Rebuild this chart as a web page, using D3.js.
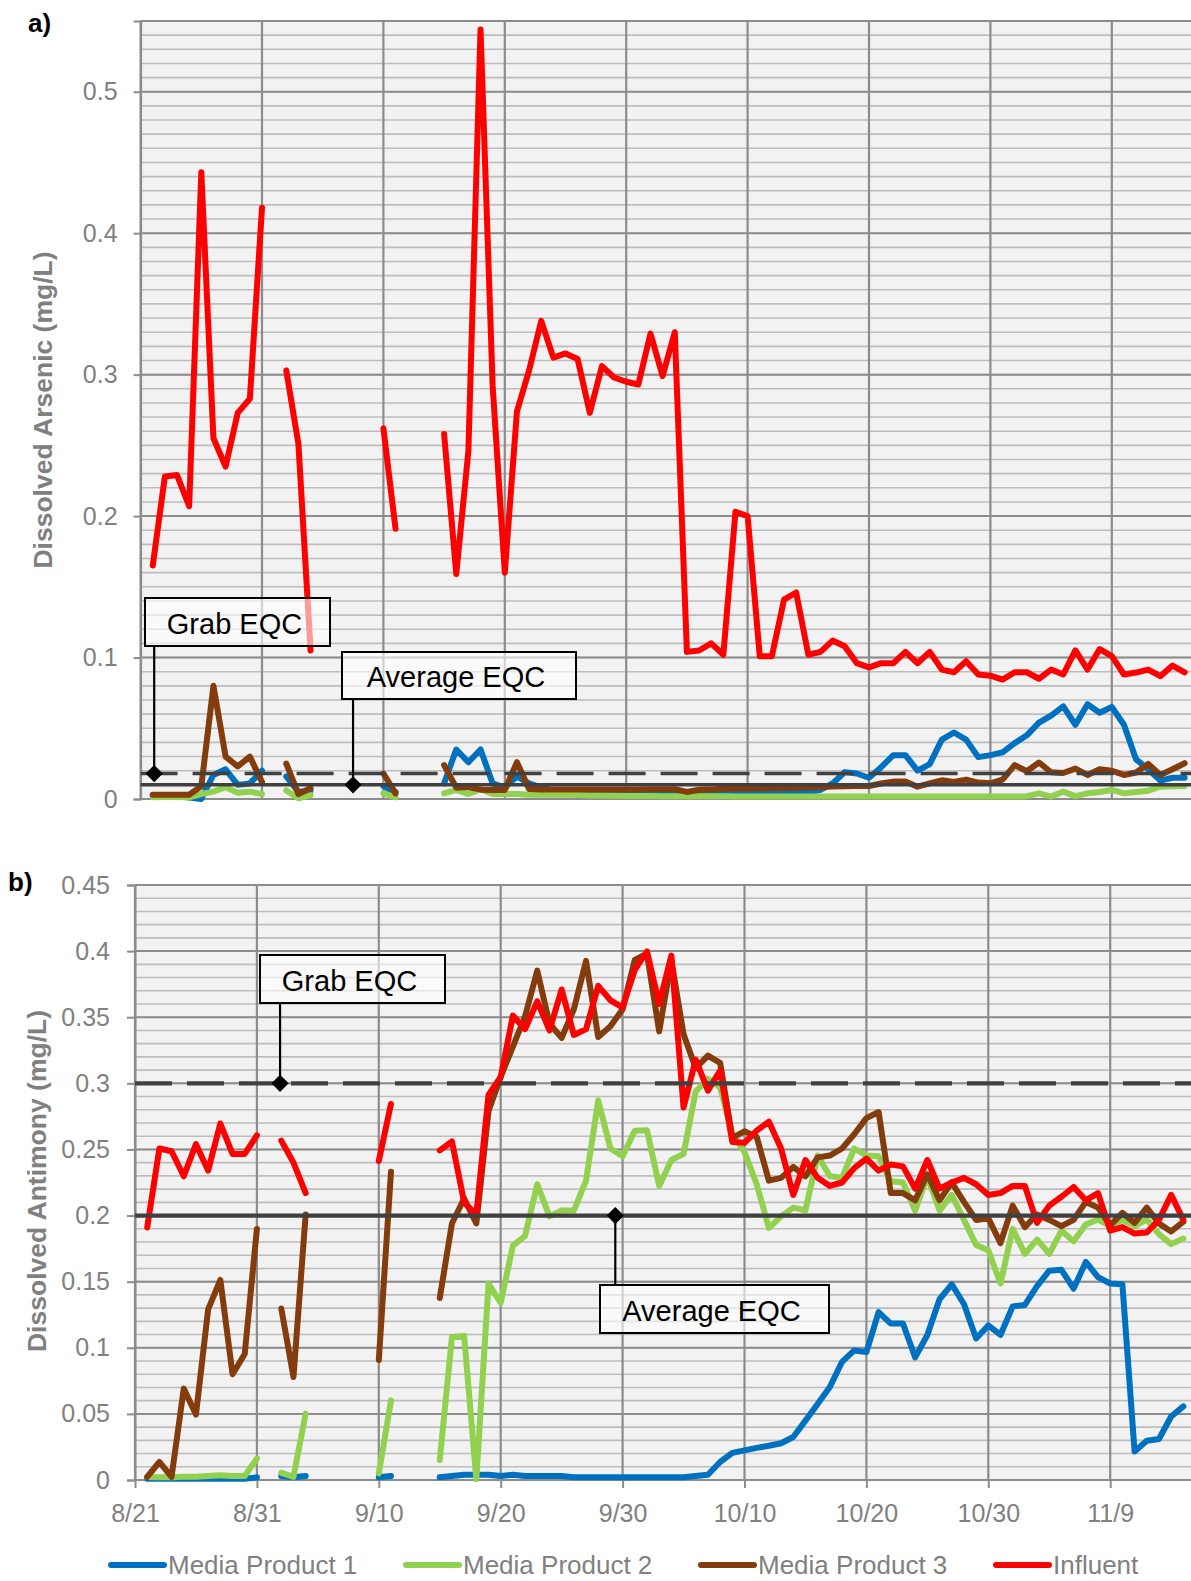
<!DOCTYPE html>
<html>
<head>
<meta charset="utf-8">
<script src="https://cdn.jsdelivr.net/npm/d3@7"></script>
<style>
body { margin: 0; background: #fff; }
svg { display: block; }
text { font-family: "Liberation Sans", Arial, sans-serif; }
</style>
</head>
<body>
<svg id="chart" width="1191" height="1581"></svg>
<script>
var startDate = new Date(2019, 7, 21);
var tickLabels = ["8/21", "8/31", "9/10", "9/20", "9/30", "10/10", "10/20", "10/30", "11/9"];
var seriesNames = ["Media Product 1", "Media Product 2", "Media Product 3", "Influent"];
var seriesColors = ["#0070c0", "#92d050", "#843c0c", "#ff0000"];
var N = null;

// one value per day, 8/22 .. 11/15 (null = no sample)
var asMP1 = [0.002,0.002,0.002,0.001,0.000,0.017,0.021,0.010,0.011,0.020, N,0.016,0.005,0.006, N,N,N,N,N, 0.009,0.005, N,N,N,
  0.011,0.035,0.026,0.035,0.011,0.008,0.016,0.011,0.008,0.006,0.005,0.005,0.004,0.004,0.004,0.004,0.004,0.004,0.004,0.004,
  0.003,0.003,0.003,0.004,0.004,0.004,0.004,0.004,0.004,0.005,0.005,0.0064,0.011,0.019,0.018,0.015,0.0225,0.031,0.031,0.020,
  0.0246,0.042,0.047,0.042,0.0296,0.031,0.033,0.0395,0.045,0.054,0.059,0.0655,0.0525,0.067,0.061,0.065,0.0525,0.028,0.021,0.013,0.015,0.015];
var asMP2 = [0.0012,0.0015,0.0015,0.0012,0.0035,0.0052,0.0083,0.0045,0.0052,0.0035, N,0.006,0.0005,0.0028, N,N,N,N,N, 0.004,0.0012, N,N,N,
  0.004,0.0064,0.0035,0.0069,0.0035,0.0035,0.0035,0.003,0.003,0.003,0.003,0.0028,0.0025,0.0024,0.0023,0.0022,0.0022,0.0022,0.002,0.002,
  0.002,0.002,0.0019,0.0019,0.0018,0.0018,0.0018,0.0018,0.0017,0.0017,0.0017,0.0017,0.0017,0.0017,0.0017,0.0017,0.0017,0.0017,0.0017,0.0017,
  0.0017,0.0017,0.0017,0.0017,0.0017,0.0017,0.0017,0.0017,0.002,0.004,0.0017,0.0052,0.002,0.004,0.005,0.0064,0.004,0.005,0.0059,0.0087,0.009,0.0092];
var asMP3 = [0.003,0.003,0.003,0.003,0.009,0.080,0.030,0.023,0.030,0.012, N,0.025,0.0035,0.0076, N,N,N,N,N, 0.018,0.004, N,N,N,
  0.024,0.008,0.0085,0.0066,0.0064,0.0064,0.026,0.0071,0.0068,0.0068,0.0068,0.0068,0.0068,0.0068,0.0068,0.0068,0.0068,0.0069,0.0069,0.0069,
  0.005,0.0065,0.0068,0.0072,0.0075,0.0075,0.0075,0.0076,0.0078,0.008,0.0082,0.0085,0.0088,0.009,0.0092,0.0092,0.011,0.0123,0.0123,0.0087,
  0.011,0.0132,0.012,0.0137,0.0116,0.0111,0.0137,0.024,0.0196,0.0258,0.0189,0.0184,0.0215,0.017,0.021,0.020,0.017,0.0187,0.0248,0.017,0.021,0.0253];
var asInfluent = [0.165,0.228,0.229,0.207,0.443,0.255,0.235,0.273,0.283,0.418, N,0.303,0.251,0.105, N,N,N,N,N, 0.262,0.191, N,N,N,
  0.258,0.159,0.246,0.544,0.292,0.160,0.274,0.303,0.338,0.312,0.315,0.311,0.273,0.306,0.298,0.295,0.293,0.329,0.299,0.330,
  0.104,0.105,0.110,0.102,0.203,0.200,0.101,0.101,0.141,0.146,0.102,0.104,0.112,0.108,0.096,0.093,0.096,0.096,0.104,0.096,
  0.104,0.0915,0.0896,0.0974,0.088,0.0872,0.0844,0.0896,0.0896,0.085,0.0915,0.088,0.105,0.0915,0.106,0.101,0.088,0.0894,0.0915,0.0868,0.0943,0.0896];

var sbMP1 = [0.001,0.001,0.001,0.001,0.001,0.001,0.001,0.001,0.001,0.002, N,0.003,0.002,0.003, N,N,N,N,N, 0.002,0.003, N,N,N,
  0.002,0.003,0.004,0.004,0.004,0.003,0.004,0.003,0.003,0.003,0.003,0.002,0.002,0.002,0.002,0.002,0.002,0.002,0.002,0.002,
  0.002,0.003,0.004,0.0136,0.0205,0.0224,0.0243,0.0259,0.0278,0.0325,0.0449,0.0575,0.0703,0.0893,0.098,0.0967,0.127,0.1183,0.1183,0.0927,
  0.1097,0.1367,0.148,0.1331,0.107,0.1169,0.1097,0.1313,0.1324,0.1467,0.1583,0.159,0.1448,0.1649,0.1535,0.1486,0.148,0.0216,0.0297,0.031,0.048,0.0557];
var sbMP2 = [0.0023,0.002,0.002,0.0025,0.0025,0.003,0.0036,0.003,0.003,0.0162, N,0.0054,0.0023,0.0502, N,N,N,N,N, 0.005,0.0602, N,N,N,
  0.0151,0.1082,0.109,0.0005,0.1486,0.134,0.1772,0.1846,0.2237,0.1994,0.2038,0.2038,0.2264,0.2871,0.2507,0.2448,0.2642,0.2645,0.2224,0.242,
  0.2466,0.294,0.3033,0.297,0.2615,0.248,0.2237,0.1907,0.1994,0.206,0.204,0.2454,0.2297,0.2285,0.2507,0.2454,0.2448,0.2259,0.225,0.2038,
  0.2297,0.2038,0.2156,0.1967,0.1778,0.1737,0.1486,0.1899,0.171,0.1818,0.171,0.1886,0.1805,0.1933,0.197,0.192,0.1967,0.192,0.197,0.1859,0.1784,0.1826];
var sbMP3 = [0.0023,0.0136,0.0023,0.0691,0.0495,0.129,0.1513,0.080,0.0953,0.1899, N,0.1297,0.0779,0.2008, N,N,N,N,N, 0.0908,0.2331, N,N,N,
  0.1377,0.194,0.2129,0.194,0.279,0.305,0.3277,0.3507,0.3853,0.3452,0.3344,0.356,0.3926,0.335,0.3431,0.356,0.3933,0.398,0.3393,0.393,
  0.3371,0.3115,0.321,0.3155,0.2588,0.2637,0.2595,0.2264,0.2285,0.2368,0.2297,0.244,0.2454,0.2507,0.2615,0.2737,0.2783,0.217,0.217,0.2115,
  0.2312,0.2115,0.225,0.2103,0.1967,0.198,0.1791,0.2075,0.1913,0.2008,0.1967,0.192,0.1967,0.2103,0.206,0.1926,0.202,0.1945,0.206,0.194,0.188,0.1953];
var sbInfluent = [0.191,0.2507,0.2486,0.2297,0.254,0.234,0.2696,0.2466,0.2466,0.2607, N,0.2567,0.240,0.217, N,N,N,N,N, 0.2413,0.2844, N,N,N,
  0.2493,0.256,0.210,0.2007,0.2912,0.3048,0.3512,0.341,0.362,0.340,0.371,0.3366,0.341,0.3737,0.3628,0.3574,0.3858,0.3998,0.36,0.3966,
  0.2818,0.318,0.2945,0.3096,0.2557,0.255,0.2642,0.271,0.2507,0.2156,0.242,0.2285,0.2224,0.225,0.2359,0.2431,0.234,0.2386,0.2372,0.2204,
  0.242,0.2204,0.225,0.2285,0.2237,0.2156,0.217,0.2224,0.2224,0.1945,0.2075,0.2142,0.2216,0.2115,0.217,0.1886,0.1913,0.1864,0.1872,0.1967,0.2156,0.1967];

var sampleDates = d3.range(1, asInfluent.length + 1).map(function(d) { return d3.timeDay.offset(startDate, d); });
var tickDates = tickLabels.map(function(t, i) { return d3.timeDay.offset(startDate, i * 10); });

var svg = d3.select("#chart");
svg.append("rect").attr("width", 1191).attr("height", 1581).attr("fill", "#fff");

function drawPanel(p) {
  var days = 88;
  var x = d3.scaleTime().domain([startDate, d3.timeDay.offset(startDate, days)])
    .range([p.left, p.left + days * p.pxPerDay]);
  var y = d3.scaleLinear().domain([0, p.yMax]).range([p.bottom, p.top]);
  var g = svg.append("g");
  var right = 1191;

  g.append("rect").attr("x", p.left).attr("y", p.top).attr("width", right - p.left)
    .attr("height", p.bottom - p.top).attr("fill", "#f2f2f2");

  // minor horizontal grid
  g.selectAll(".minor").data(d3.range(0, p.yMax + 1e-9, 0.01)).enter().append("line")
    .attr("x1", p.left).attr("x2", right).attr("y1", y).attr("y2", y)
    .attr("stroke", "#bdbdbd").attr("stroke-width", 1.6);
  // major horizontal grid
  g.selectAll(".major").data(p.ticks).enter().append("line")
    .attr("x1", p.left).attr("x2", right).attr("y1", y).attr("y2", y)
    .attr("stroke", "#8c8c8c").attr("stroke-width", 2);
  g.append("line").attr("x1", p.left).attr("x2", right).attr("y1", p.top).attr("y2", p.top)
    .attr("stroke", "#8c8c8c").attr("stroke-width", 2);
  // vertical grid
  g.selectAll(".vgrid").data(tickDates).enter().append("line")
    .attr("x1", x).attr("x2", x).attr("y1", p.top).attr("y2", p.bottom)
    .attr("stroke", "#8c8c8c").attr("stroke-width", 2.2);

  // y axis
  var ya = g.append("g").attr("transform", "translate(" + p.left + ",0)")
    .call(d3.axisLeft(y).tickValues(p.ticks).tickSize(p.tickLen).tickPadding(p.tickPad)
      .tickFormat(function(v) { return String(+v.toFixed(2)); }));
  ya.select(".domain").attr("stroke", "#8c8c8c").attr("stroke-width", 2);
  ya.selectAll(".tick line").attr("stroke", "#8c8c8c").attr("stroke-width", 2);
  ya.selectAll("text").attr("fill", "#808080").style("font-size", "25px")
    .style("font-family", "'Liberation Sans', Arial, sans-serif");

  // x axis
  var xa = g.append("g").attr("transform", "translate(0," + p.bottom + ")")
    .call(d3.axisBottom(x).tickValues(tickDates).tickSize(p.showX ? 8 : 0).tickPadding(16)
      .tickFormat(function(d, i) { return p.showX ? tickLabels[i] : ""; }));
  xa.select(".domain").attr("d", "M" + p.left + ",0H" + right).attr("stroke", "#8c8c8c").attr("stroke-width", 2);
  xa.selectAll(".tick line").attr("stroke", "#8c8c8c").attr("stroke-width", 2);
  xa.selectAll("text").attr("fill", "#808080").style("font-size", "25px")
    .style("font-family", "'Liberation Sans', Arial, sans-serif");

  // series
  var line = d3.line()
    .defined(function(v) { return v != null; })
    .x(function(v, i) { return x(sampleDates[i]); })
    .y(function(v) { return y(v); });
  g.selectAll(".series").data(p.series).enter().append("path")
    .attr("class", "series")
    .attr("d", line).attr("fill", "none")
    .attr("stroke", function(s, i) { return seriesColors[i]; })
    .style("stroke-width", "6px").attr("stroke-linejoin", "round").attr("stroke-linecap", "round");

  // EQC lines
  g.append("line").attr("x1", p.left).attr("x2", right).attr("y1", y(p.grab)).attr("y2", y(p.grab))
    .attr("stroke", "#404040").attr("stroke-width", p.eqcWidth).attr("stroke-dasharray", "37,15");
  g.append("line").attr("x1", p.left).attr("x2", right).attr("y1", y(p.avg)).attr("y2", y(p.avg))
    .attr("stroke", "#404040").attr("stroke-width", p.eqcWidth);

  // callouts
  p.callouts.forEach(function(c) {
    var ax = x(d3.timeDay.offset(startDate, 0)) + c.day * p.pxPerDay;
    var ay = y(c.value);
    var by = c.box[1] > ay ? c.box[1] : c.box[1] + c.box[3];
    g.append("line").attr("x1", ax).attr("x2", ax).attr("y1", by).attr("y2", ay)
      .attr("stroke", "#000").attr("stroke-width", 2.2);
    g.append("path").attr("d", d3.symbol(d3.symbolDiamond2, 190)())
      .attr("transform", "translate(" + ax + "," + ay + ")").attr("fill", "#000");
    g.append("rect").attr("x", c.box[0]).attr("y", c.box[1]).attr("width", c.box[2]).attr("height", c.box[3])
      .attr("fill", "#fff").attr("fill-opacity", 0.6).attr("stroke", "#000").attr("stroke-width", 2);
    g.append("text").attr("x", c.box[0] + c.box[2] / 2 - 3).attr("y", c.box[1] + c.box[3] - 12)
      .attr("text-anchor", "middle").style("font-size", "29px").attr("fill", "#000").text(c.label);
  });

  // y title
  svg.append("text").attr("transform", "translate(" + p.titleX + "," + p.titleY + ") rotate(-90)")
    .attr("text-anchor", "middle").style("font-size", "26.5px").style("font-weight", "bold")
    .attr("fill", "#808080").text(p.title);
  svg.append("text").attr("x", p.tagX).attr("y", p.tagY).style("font-size", "26px")
    .style("font-weight", "bold").attr("fill", "#000").text(p.tag);
}

drawPanel({
  top: 21, bottom: 799, left: 140.6, pxPerDay: 12.14, yMax: 0.55,
  ticks: [0, 0.1, 0.2, 0.3, 0.4, 0.5], tickLen: 7, tickPad: 16, showX: false,
  series: [asMP1, asMP2, asMP3, asInfluent], grab: 0.018, avg: 0.010, eqcWidth: 3.5,
  callouts: [
    { label: "Grab EQC", day: 1.12, value: 0.018, box: [145, 598, 185, 48] },
    { label: "Average EQC", day: 17.5, value: 0.010, box: [342, 652, 234, 47] }
  ],
  title: "Dissolved Arsenic (mg/L)", titleX: 52, titleY: 410, tag: "a)", tagX: 28, tagY: 32
});

drawPanel({
  top: 885, bottom: 1480, left: 135, pxPerDay: 12.19, yMax: 0.45,
  ticks: [0, 0.05, 0.1, 0.15, 0.2, 0.25, 0.3, 0.35, 0.4, 0.45], tickLen: 8, tickPad: 17, showX: true,
  series: [sbMP1, sbMP2, sbMP3, sbInfluent], grab: 0.3, avg: 0.2, eqcWidth: 4.2,
  callouts: [
    { label: "Grab EQC", day: 11.9, value: 0.3, box: [260, 955, 185, 48] },
    { label: "Average EQC", day: 39.4, value: 0.2, box: [600, 1285, 229, 48] }
  ],
  title: "Dissolved Antimony (mg/L)", titleX: 46, titleY: 1181, tag: "b)", tagX: 8, tagY: 891
});

// legend
var legend = svg.append("g").selectAll("g").data(seriesNames).enter().append("g")
  .attr("transform", function(d, i) { return "translate(" + (111 + i * 295) + ",1565)"; });
legend.append("line").attr("x1", 0).attr("x2", 53).attr("y1", 0).attr("y2", 0)
  .attr("stroke", function(d, i) { return seriesColors[i]; }).attr("stroke-width", 6).attr("stroke-linecap", "round");
legend.append("text").attr("x", 57).attr("y", 9).style("font-size", "26px").attr("fill", "#808080")
  .text(function(d) { return d; });
</script>
</body>
</html>
